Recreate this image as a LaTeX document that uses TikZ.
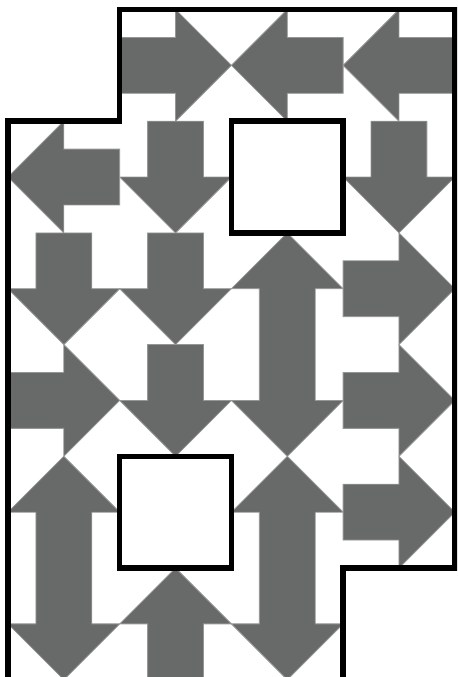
\documentclass[tikz,border=0pt]{standalone}
\definecolor{arrowgray}{RGB}{104,106,105}
\tikzset{
  tile/.style={fill=arrowgray, draw=arrowgray!70!white, line width=0.4pt, line join=miter},
  wall/.style={draw=black, line width=2.8pt, line join=miter},
  rarr/.pic={\path[tile] (0,.25) -- (.5,.25) -- (.5,0) -- (1,.5) -- (.5,1) -- (.5,.75) -- (0,.75) -- cycle;},
  larr/.pic={\path[tile] (1,.25) -- (.5,.25) -- (.5,0) -- (0,.5) -- (.5,1) -- (.5,.75) -- (1,.75) -- cycle;},
  darr/.pic={\path[tile] (.25,0) -- (.75,0) -- (.75,.5) -- (1,.5) -- (.5,1) -- (0,.5) -- (.25,.5) -- cycle;},
  uarr/.pic={\path[tile] (.25,1) -- (.75,1) -- (.75,.5) -- (1,.5) -- (.5,0) -- (0,.5) -- (.25,.5) -- cycle;},
  vdarr/.pic={\path[tile] (.5,0) -- (1,.5) -- (.75,.5) -- (.75,1.5) -- (1,1.5) -- (.5,2) -- (0,1.5) -- (.25,1.5) -- (.25,.5) -- (0,.5) -- cycle;}
}
\begin{document}
\begin{tikzpicture}[x=2cm,y=-2cm]
\useasboundingbox (-0.0716,-0.0850) rectangle (4.0197,5.9758);
\clip (-0.0716,-0.0850) rectangle (4.0197,5.9758);
% row 0
\pic at (1,0) {rarr};
\pic at (2,0) {larr};
\pic at (3,0) {larr};
% row 1
\pic at (0,1) {larr};
\pic at (1,1) {darr};
\pic at (3,1) {darr};
% row 2
\pic at (0,2) {darr};
\pic at (1,2) {darr};
\pic at (2,2) {vdarr};
\pic at (3,2) {rarr};
% row 3
\pic at (0,3) {rarr};
\pic at (1,3) {darr};
\pic at (3,3) {rarr};
% row 4-5
\pic at (0,4) {vdarr};
\pic at (2,4) {vdarr};
\pic at (3,4) {rarr};
\pic at (1,5) {uarr};
% walls
\draw[wall, fill=white] (2,1) rectangle (3,2);
\draw[wall, fill=white] (1,4) rectangle (2,5);
\draw[wall] (0,6) -- (0,1) -- (1,1) -- (1,0) -- (4,0) -- (4,5) -- (3,5) -- (3,6) -- cycle;
\end{tikzpicture}
\end{document}
